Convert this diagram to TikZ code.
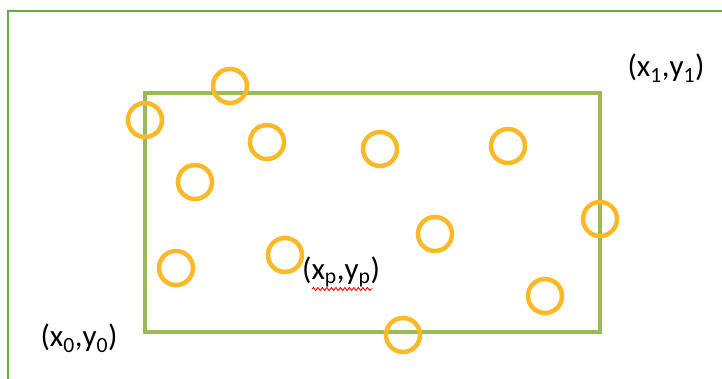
\documentclass[tikz,border=0pt]{standalone}
\usepackage{fontspec}
\setmainfont{Carlito}
\usetikzlibrary{decorations.pathmorphing}
\definecolor{frameg}{RGB}{100,175,60}
\definecolor{boxg}{RGB}{155,187,89}
\definecolor{ringo}{RGB}{251,185,40}
\tikzset{
  ring/.style={circle, draw=ringo, line width=4.5pt, minimum size=34pt, inner sep=0pt},
  lbl/.style={font=\fontsize{31}{36}\selectfont, inner sep=0pt},
}
\begin{document}
\begin{tikzpicture}[x=1pt,y=-1pt]
\useasboundingbox (0,0) rectangle (722,379);
\draw[frameg, line width=1.5pt] (8,379) -- (8,11) -- (722,11);
\draw[boxg, line width=4.5pt] (145,93) rectangle (600,332);
\node[ring] (c1) at (230,86) {};
\node[ring] (c2) at (145,120) {};
\node[ring] (c3) at (267,142) {};
\node[ring] (c4) at (380,149) {};
\node[ring] (c5) at (508,146) {};
\node[ring] (c6) at (195,182) {};
\node[ring] (c7) at (600,219) {};
\node[ring] (c8) at (435,234) {};
\node[ring] (c9) at (176,268) {};
\node[ring] (c10) at (285,255) {};
\node[ring] (c11) at (545,296) {};
\node[ring] (c12) at (403,335) {};
\node[lbl] (p0) at (79,338) {(x\textsubscript{0},y\textsubscript{0})};
\node[lbl] (p1) at (666,68) {(x\textsubscript{1},y\textsubscript{1})};
\node[lbl] (pp) at (341,272) {(x\textsubscript{p},y\textsubscript{p})};
\coordinate (sq1) at (312,289);
\coordinate (sq2) at (373,289);
\draw[red, line width=0.9pt, decorate, decoration={snake, amplitude=1.5pt, segment length=4.5pt}] (sq1) -- (sq2);
\end{tikzpicture}
\end{document}
